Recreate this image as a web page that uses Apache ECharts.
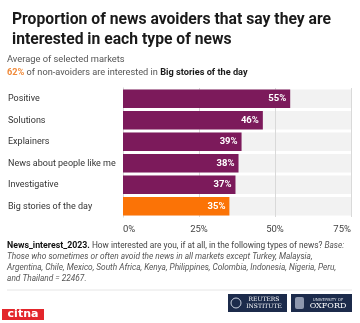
<!DOCTYPE html>
<html>
<head>
<meta charset="utf-8">
<script src="https://cdn.jsdelivr.net/npm/echarts@6/dist/echarts.min.js"></script>
<style>
  html, body { margin: 0; padding: 0; background: #fff; }
  #chart { width: 360px; height: 323px; }
</style>
</head>
<body>
<div id="chart"></div>
<script>
// News types and share of avoiders interested in each (%)
const categories = ['Positive', 'Solutions', 'Explainers', 'News about people like me', 'Investigative', 'Big stories of the day'];
const values = [55, 46, 39, 38, 37, 35];
const highlight = 'Big stories of the day';
const axisTicks = [0, 25, 50, 75];

const PURPLE = '#7c1a5b';
const ORANGE = '#fb7306';
const FONT = 'Roboto, "Liberation Sans", sans-serif';

const chart = echarts.init(document.getElementById('chart'), null, { renderer: 'canvas' });

const barData = values.map((v, i) => ({
  value: v,
  itemStyle: { color: categories[i] === highlight ? ORANGE : PURPLE }
}));

chart.setOption({
  animation: false,
  textStyle: { fontFamily: FONT },
  title: {
    text: 'Proportion of news avoiders that say they are\ninterested in each type of news',
    left: 7, top: 5,
    textStyle: { fontSize: 15.7, fontWeight: 'bold', color: '#1a1a1a', lineHeight: 20, fontFamily: FONT }
  },
  grid: { left: 123, right: 9, top: 88, height: 129, containLabel: false },
  xAxis: {
    type: 'value',
    min: axisTicks[0], max: axisTicks[axisTicks.length - 1], interval: 25,
    axisLine: { show: false },
    axisTick: { show: false },
    axisLabel: {
      formatter: '{value}%', color: '#444', fontSize: 9.5, margin: 8,
      alignMinLabel: 'left', alignMaxLabel: 'right'
    },
    splitLine: { show: true, lineStyle: { color: '#d9d9d9', width: 1 } },
    z: 1.5
  },
  yAxis: {
    type: 'category',
    data: categories,
    inverse: true,
    axisLine: { show: true, lineStyle: { color: '#cfcfcf' } },
    axisTick: { show: false },
    axisLabel: { align: 'left', margin: 115, color: '#333', fontSize: 9 }
  },
  series: [
    {
      // full-width grey track behind each bar
      type: 'bar',
      data: categories.map(() => axisTicks[axisTicks.length - 1]),
      barCategoryGap: '14%',
      itemStyle: { color: '#f2f2f2' },
      silent: true,
      z: 1
    },
    {
      type: 'bar',
      data: barData,
      barCategoryGap: '14%',
      barGap: '-100%',
      z: 3,
      label: {
        show: true, position: 'insideRight', distance: 4,
        formatter: '{c}%', color: '#fff', fontWeight: 'bold', fontSize: 9.5
      }
    }
  ],
  graphic: [
    {
      type: 'text', left: 7, top: 55,
      style: { text: 'Average of selected markets', fill: '#555', font: '9.3px ' + FONT }
    },
    {
      type: 'text', left: 7, top: 68,
      style: {
        text: '{o|62%} of non-avoiders are interested in {b|Big stories of the day}',
        fill: '#555', font: '9.2px ' + FONT,
        rich: {
          o: { fill: '#f08a3a', fontSize: 9.2, fontWeight: 'bold', fontFamily: FONT },
          b: { fill: '#1a1a1a', fontSize: 9.2, fontWeight: 'bold', fontFamily: FONT }
        }
      }
    },
    {
      type: 'text', left: 7, top: 240,
      style: {
        text: '{b|News_interest_2023.} How interested are you, if at all, in the following types of news? {i|Base:}\n' +
              '{i|Those who sometimes or often avoid the news in all markets except Turkey, Malaysia,}\n' +
              '{i|Argentina, Chile, Mexico, South Africa, Kenya, Philippines, Colombia, Indonesia, Nigeria, Peru,}\n' +
              '{i|and Thailand = 22467.}',
        fill: '#444', font: '8.3px ' + FONT, lineHeight: 11,
        rich: {
          b: { fill: '#111', fontSize: 8.8, fontWeight: 'bold', fontFamily: FONT, lineHeight: 11 },
          i: { fill: '#555', fontSize: 8.3, fontStyle: 'italic', fontFamily: FONT, lineHeight: 11 }
        }
      }
    },
    {
      type: 'line',
      shape: { x1: 7, y1: 290, x2: 352, y2: 290 },
      style: { stroke: '#e6e6e6', lineWidth: 1 }
    },
    {
      type: 'group', left: 228, top: 294,
      children: [
        { type: 'rect', shape: { x: 0, y: 0, width: 59, height: 18 }, style: { fill: '#1c2b4b' } },
        { type: 'circle', shape: { cx: 8, cy: 9, r: 5 }, style: { fill: 'none', stroke: '#c8cfdc', lineWidth: 1 } },
        {
          type: 'text', x: 36, y: 9,
          style: { text: 'REUTERS\nINSTITUTE', fill: '#fff', font: '6px "DejaVu Serif", serif', align: 'center', verticalAlign: 'middle', lineHeight: 7 }
        }
      ]
    },
    {
      type: 'group', left: 291, top: 294,
      children: [
        { type: 'rect', shape: { x: 0, y: 0, width: 61, height: 18 }, style: { fill: '#1c2b4b' } },
        { type: 'rect', shape: { x: 4, y: 3, width: 9, height: 12, r: 2 }, style: { fill: '#8d97ad' } },
        {
          type: 'text', x: 37, y: 6,
          style: { text: 'UNIVERSITY OF', fill: '#dfe3ea', font: '4px "DejaVu Sans", sans-serif', align: 'center', verticalAlign: 'middle' }
        },
        {
          type: 'text', x: 37, y: 12,
          style: { text: 'OXFORD', fill: '#fff', font: '8px "DejaVu Serif", serif', align: 'center', verticalAlign: 'middle' }
        }
      ]
    },
    {
      type: 'group', left: 2, top: 309,
      children: [
        { type: 'rect', shape: { x: 0, y: 0, width: 42, height: 11 }, style: { fill: '#e3262b' } },
        {
          type: 'text', x: 21, y: 5.5,
          style: { text: 'citna', fill: '#fff', font: 'bold 11px "DejaVu Sans", sans-serif', align: 'center', verticalAlign: 'middle' }
        }
      ]
    }
  ]
});
</script>
</body>
</html>
